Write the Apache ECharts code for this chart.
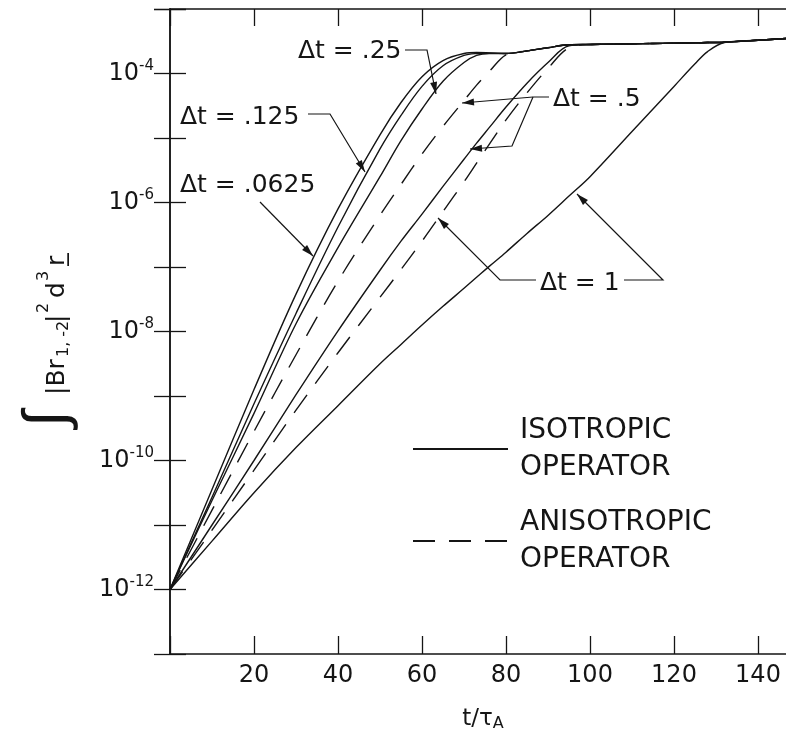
<!DOCTYPE html>
<html><head><meta charset="utf-8">
<script src="https://cdn.jsdelivr.net/npm/echarts@6/dist/echarts.min.js"></script>
<style>html,body{margin:0;padding:0;background:#fff}#c{width:786px;height:739px}</style>
</head><body><div id="c"></div>
<script>
// time in units of t/tau_A
const tValues = [0,10,20,30,40,50,55,60,65,70,73,76,80,85,90,95,100,110,115,120,125,128,132,140,150];
// log10 of the integral
const iso0625 = [-12,-10.45,-8.9,-7.42,-6.1,-4.95,-4.45,-4.05,-3.8,-3.69,-3.675,-3.68,-3.69,-3.65,-3.6,-3.555,-3.55,-3.54,-3.535,-3.53,-3.525,-3.52,-3.515,-3.484,-3.444];
const iso125  = [-12,-10.57,-9.12,-7.72,-6.38,-5.17,-4.65,-4.2,-3.88,-3.72,-3.69,-3.685,-3.69,-3.65,-3.6,-3.555,-3.55,-3.54,-3.535,-3.53,-3.525,-3.52,-3.515,-3.484,-3.444];
const iso25   = [-12,-10.62,-9.27,-7.88,-6.7,-5.6,-5.04,-4.55,-4.12,-3.83,-3.72,-3.69,-3.69,-3.65,-3.6,-3.555,-3.55,-3.54,-3.535,-3.53,-3.525,-3.52,-3.515,-3.484,-3.444];
const aniso5  = [-12,-10.77,-9.55,-8.36,-7.22,-6.2,-5.72,-5.25,-4.82,-4.42,-4.18,-3.97,-3.71,-3.65,-3.6,-3.555,-3.55,-3.54,-3.535,-3.53,-3.525,-3.52,-3.515,-3.484,-3.444];
const iso5    = [-12,-11.0,-10.0,-8.98,-7.99,-7.05,-6.6,-6.18,-5.75,-5.33,-5.08,-4.84,-4.52,-4.15,-3.83,-3.57,-3.55,-3.54,-3.535,-3.53,-3.525,-3.52,-3.515,-3.484,-3.444];
const aniso1  = [-12,-11.08,-10.15,-9.22,-8.33,-7.47,-7.04,-6.6,-6.14,-5.68,-5.39,-5.1,-4.72,-4.3,-3.92,-3.6,-3.55,-3.54,-3.535,-3.53,-3.525,-3.52,-3.515,-3.484,-3.444];
const iso1    = [-12,-11.25,-10.5,-9.8,-9.15,-8.5,-8.2,-7.9,-7.61,-7.33,-7.16,-6.99,-6.77,-6.48,-6.2,-5.9,-5.6,-4.9,-4.55,-4.2,-3.85,-3.66,-3.52,-3.484,-3.444];
const legendNames = ['ISOTROPIC OPERATOR','ANISOTROPIC OPERATOR'];
const xTickLabels = [20,40,60,80,100,120,140];

const FONT = 'DejaVu Sans';
const INK = '#151515';
const chart = echarts.init(document.getElementById('c'));

function pairs(ex){ return tValues.map((t,i)=>[t, Math.pow(10, ex[i])]); }
const defs = [
  {name:legendNames[0], ex:iso0625, dash:false},
  {name:legendNames[0], ex:iso125, dash:false},
  {name:legendNames[0], ex:iso25, dash:false},
  {name:legendNames[1], ex:aniso5, dash:true},
  {name:legendNames[0], ex:iso5, dash:false},
  {name:legendNames[1], ex:aniso1, dash:true},
  {name:legendNames[0], ex:iso1, dash:false}
];
const series = defs.map(d=>({
  type:'line', name:d.name, data:pairs(d.ex), symbol:'none', smooth:0.35,
  xAxisIndex:0, yAxisIndex:0, silent:true,
  lineStyle:{color:INK, width:1.4, type: d.dash ? [22,14] : 'solid'},
  itemStyle:{color:INK}
}));

// annotation layout (label, label position, leader paths ending at arrow tips)
const annotations = [
  {label:'Δt = .25',   at:[298,51],  paths:[[[405,50],[427,50],[436,94]]]},
  {label:'Δt = .125',  at:[180,117], paths:[[[308,114],[330,114],[365,172]]]},
  {label:'Δt = .0625', at:[180,185], paths:[[[260,202],[313,256]]]},
  {label:'Δt = .5',    at:[553,99],  paths:[[[549,97],[533,97],[462,103]],[[533,97],[512,146],[470,149]]]},
  {label:'Δt = 1',     at:[540,283], paths:[[[536,280],[500,280],[438,218]],[[624,280],[663,280],[577,194]]]}
];
const graphics = [];
annotations.forEach(a=>{
  graphics.push({type:'text', x:a.at[0], y:a.at[1], silent:true,
    style:{text:a.label, fontFamily:FONT, fontSize:25, fill:INK, align:'left', verticalAlign:'middle'}});
  a.paths.forEach(p=>{
    graphics.push({type:'polyline', silent:true, shape:{points:p}, style:{stroke:INK, lineWidth:1.2, fill:null}});
    const [x1,y1]=p[p.length-2], [x2,y2]=p[p.length-1];
    const L=Math.hypot(x2-x1,y2-y1), ux=(x2-x1)/L, uy=(y2-y1)/L, nx=-uy, ny=ux, h=12, w=3.5;
    graphics.push({type:'polygon', silent:true, shape:{points:[[x2,y2],[x2-ux*h+nx*w,y2-uy*h+ny*w],[x2-ux*h-nx*w,y2-uy*h-ny*w]]}, style:{fill:INK}});
  });
});
// rotated y-axis title, assembled piece by piece (local x = reading direction)
const yTitlePieces = [
  {t:'∫',     x:10,  y:-9,  fs:60, ff:'Liberation Sans'},
  {t:'|Br',   x:42,  y:0,   fs:25},
  {t:'1, -2', x:80,  y:7,   fs:16},
  {t:'|',     x:114, y:0,   fs:25},
  {t:'2',     x:124, y:-13, fs:16},
  {t:'d',     x:139, y:0,   fs:25},
  {t:'3',     x:156, y:-13, fs:16},
  {t:'r̲',     x:171, y:0,   fs:25}
];
graphics.push({type:'group', x:57, y:437, rotation:Math.PI/2, silent:true,
  children:yTitlePieces.map(p=>({type:'text', x:p.x, y:p.y, silent:true,
    style:{text:p.t, fontFamily:p.ff || FONT, fontSize:p.fs, fill:INK, align:'left', verticalAlign:'middle'}}))});
graphics.push({type:'text', x:483, y:719, silent:true,
  style:{text:'{n|t/τ}{s|A}', align:'center', verticalAlign:'middle', fill:INK, fontFamily:FONT,
    rich:{n:{fontFamily:FONT, fontSize:23, lineHeight:26, fill:INK},
          s:{fontFamily:FONT, fontSize:16, lineHeight:18, verticalAlign:'bottom', fill:INK}}}});

const axisLineStyle = {color:INK, width:1.5};
const option = {
  backgroundColor:'#fff',
  animation:false,
  grid:{left:170, top:9, width:630, height:645, containLabel:false, outerBoundsMode:'none'},
  legend:{show:true, orient:'vertical', left:407, top:407, itemWidth:95, itemHeight:14, itemGap:18,
    selectedMode:false, data:legendNames, formatter:n=>n.replace(' ','\n'),
    itemStyle:{opacity:0},
    textStyle:{fontFamily:FONT, fontSize:28, lineHeight:37, color:INK, padding:[0,0,0,7]}},
  xAxis:[
    {type:'value', position:'bottom', min:0, max:150, interval:20,
     axisLine:{show:true, lineStyle:axisLineStyle},
     axisTick:{show:true, inside:true, length:18, lineStyle:{color:INK, width:1.3}},
     axisLabel:{show:true, margin:10, fontFamily:FONT, fontSize:24, color:INK,
       formatter:v=> xTickLabels.indexOf(v)>=0 ? String(v) : ''},
     splitLine:{show:false}},
    {type:'value', position:'top', min:0, max:150, interval:20,
     axisLine:{show:true, lineStyle:axisLineStyle},
     axisTick:{show:true, inside:true, length:17, lineStyle:{color:INK, width:1.3}},
     axisLabel:{show:false}, splitLine:{show:false}}
  ],
  yAxis:[
    {type:'log', logBase:10, min:1e-13, max:1e-3, interval:1, splitNumber:10, position:'left',
     axisLine:{show:true, lineStyle:axisLineStyle},
     axisTick:{show:true, inside:true, length:16, lineStyle:{color:INK, width:1.3}},
     axisLabel:{show:true, margin:16,
       formatter:v=>{const e=Math.round(Math.log10(v)); if(e%2!==0||e<-12||e>-4) return ''; return '{a|10}{b|'+e+'}';},
       rich:{a:{fontFamily:FONT, fontSize:24, lineHeight:30, color:INK},
             b:{fontFamily:FONT, fontSize:15, lineHeight:16, verticalAlign:'top', color:INK}}},
     splitLine:{show:false}, minorTick:{show:false}},
    {type:'log', logBase:10, min:1e-13, max:1e-3, interval:1, splitNumber:10, position:'right',
     axisLine:{show:true, lineStyle:axisLineStyle},
     axisTick:{show:true, inside:true, length:16, lineStyle:{color:INK, width:1.3}},
     axisLabel:{show:false}, splitLine:{show:false}}
  ],
  series:series,
  graphic:graphics
};
chart.setOption(option);
</script></body></html>
